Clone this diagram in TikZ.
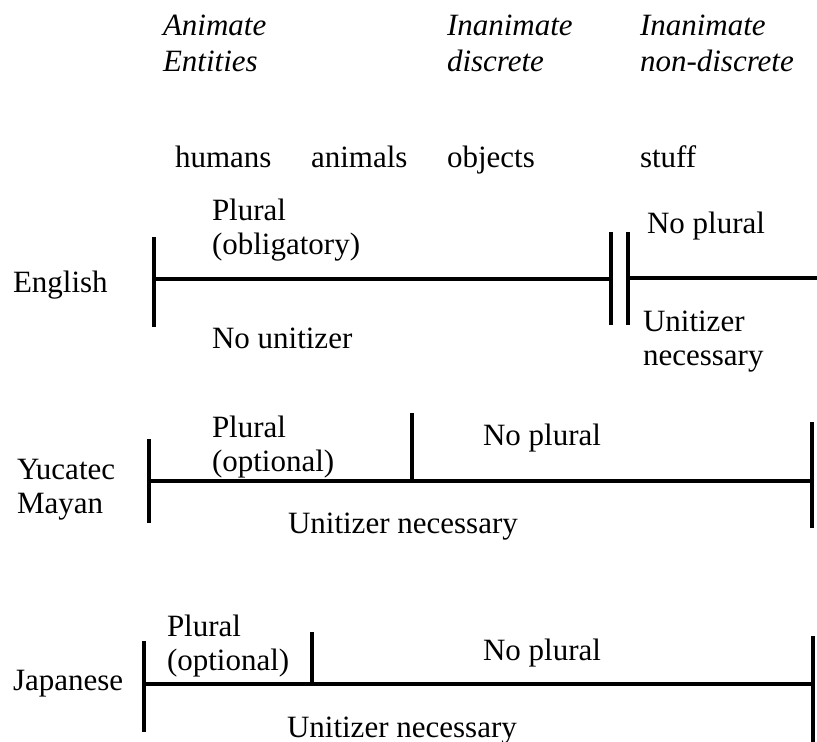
\documentclass[tikz,border=0pt]{standalone}
\usepackage{fontspec}
\setmainfont{Liberation Serif}
\begin{document}
\begin{tikzpicture}[x=0.75pt,y=-0.75pt,
  txt/.style={anchor=base west,inner sep=0pt,outer sep=0pt,align=left,
    font=\fontsize{23.25}{25}\selectfont},
  head/.style={txt,font=\fontsize{23.25}{26.25}\selectfont\itshape},
  axis/.style={line width=3pt},
  tick/.style={line width=3pt}]
\useasboundingbox (0,0) rectangle (817,742);
% two-line labels are placed by the baseline of their last line

% category headings
\node[head] (hA) at (163,71) {Animate\\Entities};
\node[head] (hD) at (447,71) {Inanimate\\discrete};
\node[head] (hN) at (640,71) {Inanimate\\non-discrete};

% example kinds
\node[txt] (kH) at (175,167) {humans};
\node[txt] (kA) at (311,167) {animals};
\node[txt] (kO) at (447,167) {objects};
\node[txt] (kS) at (640,167) {stuff};

% ---------- English ----------
\node[txt] (lE) at (13,292) {English};
\coordinate (eLt) at (154,237); \coordinate (eLb) at (154,327);
\coordinate (eL)  at (154,279); \coordinate (eM)  at (611,279);
\coordinate (eAt) at (611,232); \coordinate (eAb) at (611,325);
\coordinate (eBt) at (628,232); \coordinate (eBb) at (628,325);
\coordinate (eR0) at (628,278); \coordinate (eR)  at (817,278);
\draw[tick] (eLt) -- (eLb);
\draw[axis] (eL) -- (eM);
\draw[tick] (eAt) -- (eAb);
\draw[tick] (eBt) -- (eBb);
\draw[axis] (eR0) -- (eR);
\node[txt] (ePl) at (212,254) {Plural\\(obligatory)};
\node[txt] (eNu) at (212,348) {No unitizer};
\node[txt] (eNp) at (647,233) {No plural};
\node[txt] (eUn) at (643,365) {Unitizer\\necessary};

% ---------- Yucatec Mayan ----------
\node[txt] (lY) at (17,513) {Yucatec\\Mayan};
\coordinate (yLt) at (149,439); \coordinate (yLb) at (149,523);
\coordinate (yL)  at (149,481); \coordinate (yR)  at (812,481);
\coordinate (yMt) at (412,413); \coordinate (yM)  at (412,481);
\coordinate (yRt) at (812,422); \coordinate (yRb) at (812,528);
\draw[tick] (yLt) -- (yLb);
\draw[axis] (yL) -- (yR);
\draw[tick] (yMt) -- (yM);
\draw[tick] (yRt) -- (yRb);
\node[txt] (yPl) at (212,471) {Plural\\(optional)};
\node[txt] (yNp) at (483,445) {No plural};
\node[txt] (yUn) at (288,533) {Unitizer necessary};

% ---------- Japanese ----------
\node[txt] (lJ) at (13,690) {Japanese};
\coordinate (jLt) at (144,641); \coordinate (jLb) at (144,732);
\coordinate (jL)  at (144,684); \coordinate (jR)  at (813,684);
\coordinate (jMt) at (312,632); \coordinate (jM)  at (312,684);
\coordinate (jRt) at (813,636); \coordinate (jRb) at (813,742);
\draw[tick] (jLt) -- (jLb);
\draw[axis] (jL) -- (jR);
\draw[tick] (jMt) -- (jM);
\draw[tick] (jRt) -- (jRb);
\node[txt] (jPl) at (167,670) {Plural\\(optional)};
\node[txt] (jNp) at (483,660) {No plural};
\node[txt] (jUn) at (287,737) {Unitizer necessary};
\end{tikzpicture}
\end{document}
